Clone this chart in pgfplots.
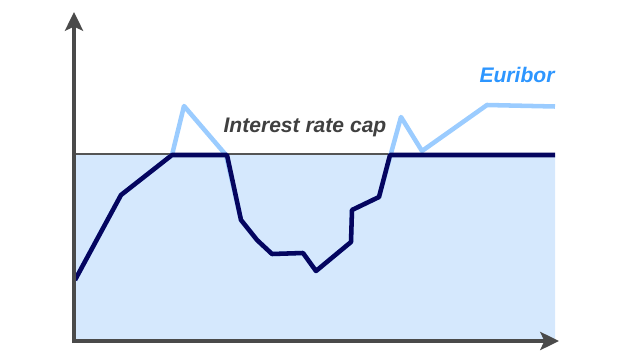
\documentclass[border=0pt]{standalone}
\usepackage{pgfplots}
\pgfplotsset{compat=1.18}
\usepackage{fontspec}
\setmainfont{Liberation Sans}
\usetikzlibrary{arrows.meta}
\definecolor{fillblue}{RGB}{213,232,253}
\definecolor{navy}{RGB}{5,5,95}
\definecolor{eurline}{RGB}{155,204,255}
\definecolor{eurtext}{RGB}{45,150,255}
\definecolor{captext}{RGB}{64,64,64}
\definecolor{axisgray}{RGB}{74,74,74}
\definecolor{capgray}{RGB}{85,85,85}
\begin{document}
\begin{tikzpicture}
\begin{axis}[
  width=480pt, height=270pt, scale only axis,
  xmin=0, xmax=640, ymin=0, ymax=360, y dir=reverse,
  axis lines=none, ticks=none, clip=false,
]
% shaded region below the cap
\addplot[fill=fillblue, draw=none] coordinates {(75,155) (555,155) (555,339) (75,339) (75,155)};
% cap line
\addplot[capgray, line width=1.9pt] coordinates {(74,153.8) (555,153.8)};
% Euribor
\addplot[eurline, line width=3.4pt, line join=round] coordinates {
(75,280) (121,195) (172,155) (184,106) (226,155) (241,220) (257,240) (272,254)
(303,253) (316,271) (351,242) (352,210) (379,197) (401,117) (422,151)
(487,105) (555,106.5)};
% capped rate
\addplot[navy, line width=3.4pt, line join=round] coordinates {
(75,280) (121,195) (172,155) (227,155) (241,220) (257,240) (272,254)
(303,253) (316,271) (351,242) (352,210) (379,197) (390,155) (555,155)};
% axes
\addplot[axisgray, line width=3.4pt, -{Stealth[length=14pt, width=13.5pt, inset=3pt]}] coordinates {(74,343) (74,12)};
\addplot[axisgray, line width=3.4pt, -{Stealth[length=14pt, width=13.5pt, inset=3pt]}] coordinates {(72.3,341) (559,341)};
\node[anchor=base, text=captext, font=\fontsize{15.8}{18}\selectfont\bfseries\itshape] at (axis cs:305,132.7) {Interest rate cap};
\node[anchor=base, text=eurtext, font=\fontsize{15.8}{18}\selectfont\bfseries\itshape] at (axis cs:517,82.7) {Euribor};
\end{axis}
\pgfresetboundingbox
\path (current axis.south west) (current axis.north east);
\end{tikzpicture}
\end{document}
